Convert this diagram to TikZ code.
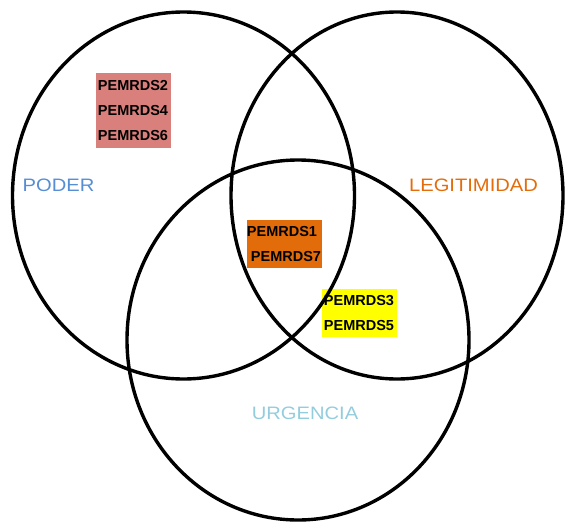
\documentclass[tikz,border=0pt]{standalone}
\usepackage{fontspec}
\setmainfont{Liberation Sans}
\newfontfamily\etiqueta[FakeStretch=1.12]{Liberation Sans}
\definecolor{box_pink}{RGB}{217,128,124}
\definecolor{box_orange}{RGB}{226,107,10}
\definecolor{box_yellow}{RGB}{255,255,0}
\definecolor{text_blue}{RGB}{85,142,213}
\definecolor{text_orange}{RGB}{228,108,10}
\definecolor{text_cyan}{RGB}{147,205,221}

\begin{document}
\begin{tikzpicture}[x=1pt,y=-1pt]
    \tikzstyle{grupo}=[inner sep=0pt, minimum width=75pt, align=left, text=black, font=\fontsize{14.5}{25}\selectfont\bfseries]
    \tikzstyle{pinkbox}=[style=grupo, fill=box_pink, minimum height=75pt]
    \tikzstyle{orangebox}=[style=grupo, fill=box_orange, minimum height=48pt]
    \tikzstyle{yellowbox}=[style=grupo, fill=box_yellow, minimum height=48pt]
    \tikzstyle{conjunto}=[font=\etiqueta\fontsize{18}{20}\selectfont]
    \tikzstyle{borde}=[draw=black, line width=3.4pt]

    \useasboundingbox (0,0) rectangle (565,522);

    \node[pinkbox]   (p246) at (133,110.5) {PEMRDS2\\PEMRDS4\\PEMRDS6};
    \node[orangebox] (p17)  at (284,244)   {PEMRDS1\\\hspace{4pt}PEMRDS7};
    \node[yellowbox] (p35)  at (359,313)   {PEMRDS3\\PEMRDS5};

    \node[conjunto, text=text_blue]   (poder) at (58.5,185) {PODER};
    \node[conjunto, text=text_orange] (legit) at (473.5,185) {LEGITIMIDAD};
    \node[conjunto, text=text_cyan]   (urg)   at (305,413)  {URGENCIA};

    % conjuntos
    \draw[borde] (183.5,195.5) ellipse [x radius=171, y radius=183.5];
    \draw[borde] (397,195.5) ellipse [x radius=166, y radius=183.5];
    \draw[borde] (298,340) ellipse [x radius=171, y radius=180];
\end{tikzpicture}
\end{document}
